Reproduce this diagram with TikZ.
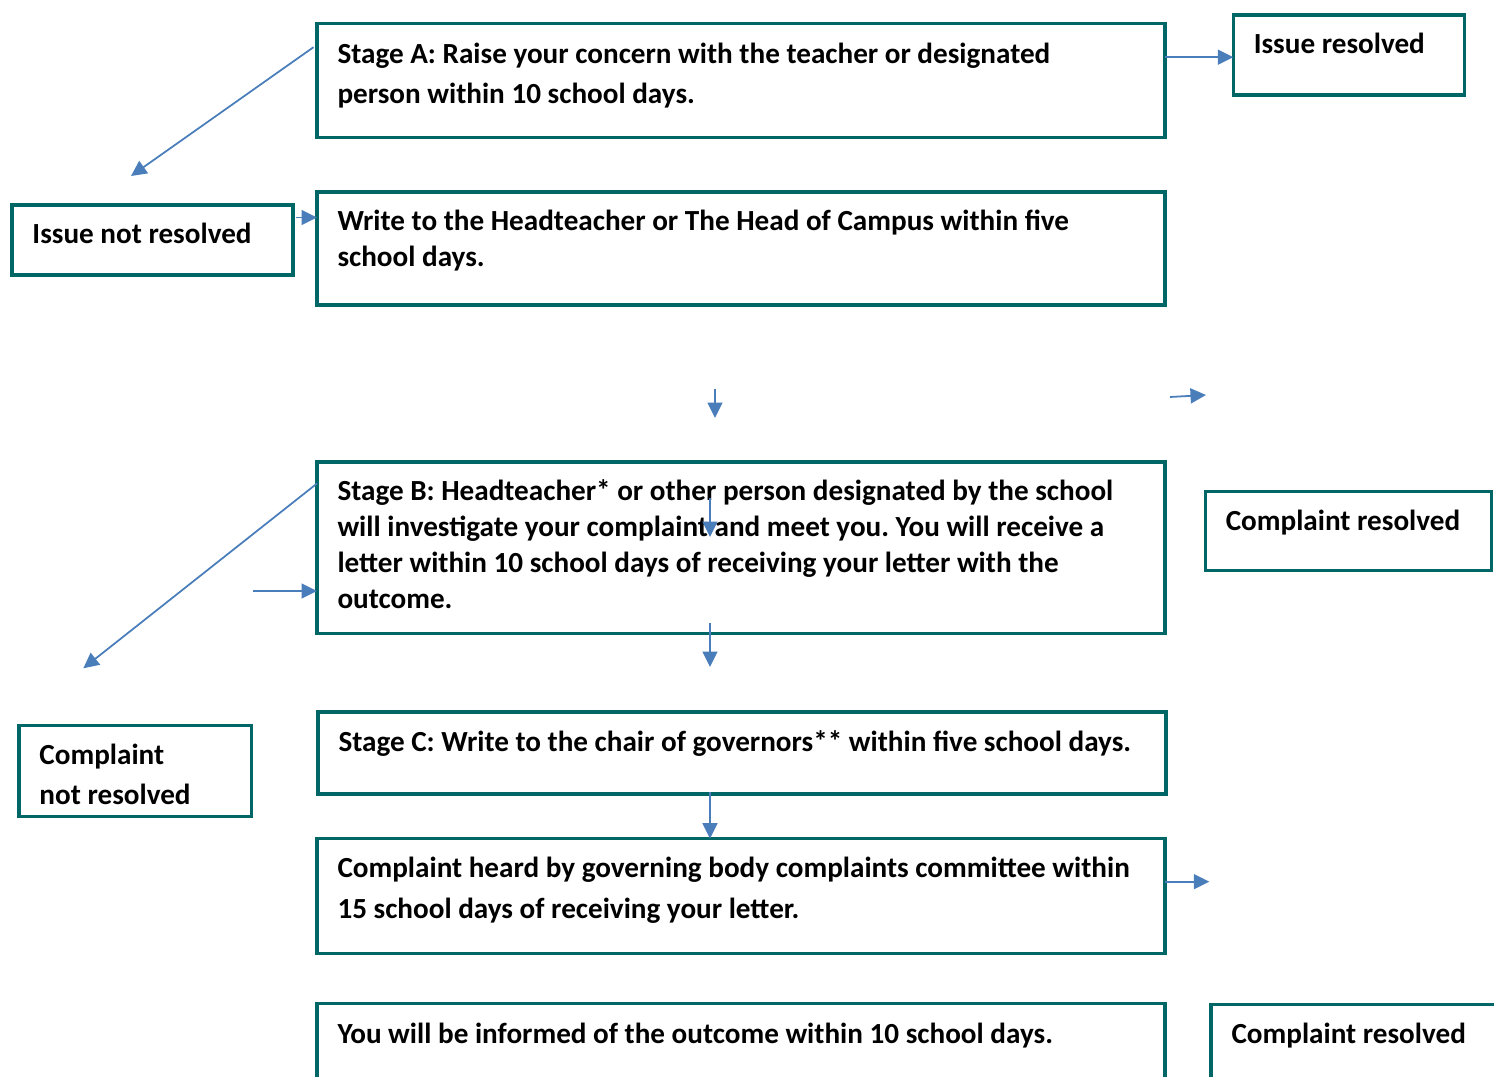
\documentclass[tikz,border=0pt]{standalone}
\usepackage{fontspec}
\setmainfont{Carlito}
\usetikzlibrary{arrows.meta}

\definecolor{boxteal}{RGB}{0,102,102}
\definecolor{flowblue}{RGB}{74,126,187}

\tikzset{lskip/.style={font=\bfseries\frenchspacing\fontsize{16.6pt}{#1}\selectfont}}
\tikzstyle{box} = [draw=boxteal, line width=1.9pt, anchor=north west, outer sep=0pt,
  inner ysep=0pt, inner xsep=0.41cm, align=flush left, lskip=0.8cm]
\tikzstyle{wide} = [box, text width=16.14cm]
\tikzstyle{flow} = [draw=flowblue, line width=1pt, ->]

\begin{document}
\begin{tikzpicture}[x=0.02cm, y=-0.02cm,
>={Triangle[length=0.31cm,width=0.3cm]},
]
\useasboundingbox (0,0) rectangle (1494,1077);
\clip (0,0) rectangle (1494,1077);

%STAGE A
\node[wide, text height=0.79cm, text depth=1.49cm] (stageA) at (317,23.7)
  {Stage A: Raise your concern with the teacher or designated\\person within 10 school days.};
\node[box, text width=3.81cm, text height=0.77cm, text depth=0.83cm] (issueres) at (1233.3,15) {Issue resolved};
\node[box, text width=4.80cm, text height=0.77cm, text depth=0.63cm] (notres) at (12,205) {Issue not resolved};
\coordinate (ars) at ([yshift=-0.67cm]stageA.north east);
\draw[flow] (ars) -- (ars -| issueres.west);
\coordinate (dA) at (131,176);
\draw[flow] ([xshift=-0.07cm,yshift=-0.47cm]stageA.north west) -- (dA);

%WRITE
\node[wide, lskip=0.72cm, text height=0.78cm, text depth=1.48cm] (write) at (317,192)
  {Write to the Headteacher or The Head of Campus within five\\school days.};
\coordinate (nrs) at ([xshift=0.07cm,yshift=-0.25cm]notres.north east);
\draw[flow] (nrs) -- (nrs -| write.west);
\coordinate (d1s) at (715,389);
\coordinate (d1e) at (715,418);
\draw[flow] (d1s) -- (d1e);
\coordinate (r1s) at (1170,397);
\coordinate (r1e) at (1206,395);
\draw[flow] (r1s) -- (r1e);

%STAGE B
\node[wide, lskip=0.72cm, text height=0.78cm, text depth=2.65cm] (stageB) at (317,462)
  {Stage B: Headteacher* or other person designated by the school\\will investigate your complaint and meet you. You will receive a\\letter within 10 school days of receiving your letter with the\\outcome.};
\node[box, text width=4.91cm, text height=0.79cm, text depth=0.79cm] (cres1) at (1205.3,491.3) {Complaint resolved};
\node[box, text width=3.83cm, text height=0.78cm, text depth=1.04cm] (cnotres) at (19,725.7) {Complaint\\not resolved};
\coordinate (b1s) at (710,498);
\coordinate (b1e) at (710,537);
\draw[flow] (b1s) -- (b1e);
\coordinate (dB) at (83.3,668.3);
\draw[flow] ([yshift=-0.43cm]stageB.north west) -- (dB);
\coordinate (rB) at (253.3,591);
\draw[flow] (rB) -- (rB -| stageB.west);
\coordinate (bcs) at (710,623);
\coordinate (bce) at (710,667);
\draw[flow] (bcs) -- (bce);

%STAGE C
\node[wide, text height=0.79cm, text depth=0.85cm] (stageC) at (318,712)
  {Stage C: Write to the chair of governors** within five school days.};
\node[wide, lskip=0.81cm, text height=0.78cm, text depth=1.52cm] (heard) at (317,838.7)
  {Complaint heard by governing body complaints committee within\\15 school days of receiving your letter.};
\coordinate (ch) at (710,792);
\draw[flow] (ch) -- (ch |- heard.north);
\coordinate (hr) at (1209.3,881.7);
\draw[flow] (hr -| heard.east) -- (hr);

%OUTCOME
\node[wide, text height=0.79cm, text depth=1.5cm] (informed) at (317,1003.7)
  {You will be informed of the outcome within 10 school days.};
\node[box, text width=4.96cm, text height=0.78cm, text depth=1.5cm] (cres2) at (1211,1004.3) {Complaint resolved};

\end{tikzpicture}
\end{document}
